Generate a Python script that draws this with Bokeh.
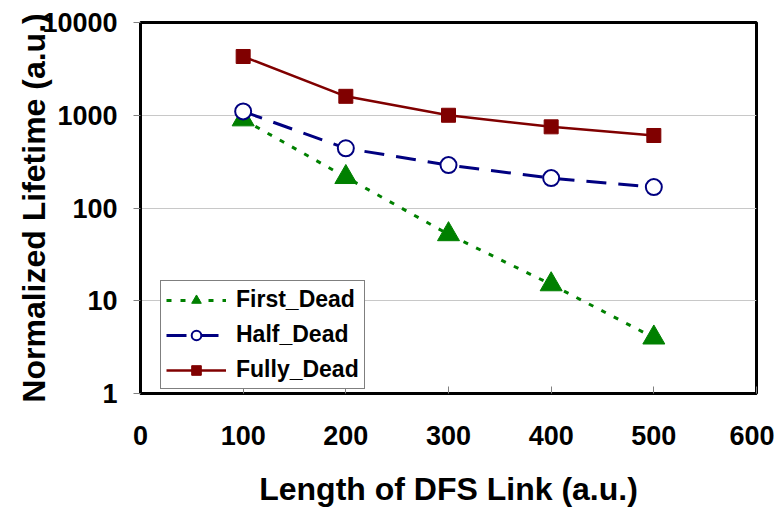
from bokeh.plotting import figure
from bokeh.models import FixedTicker, Range1d, Legend, LegendItem
from bokeh.embed import file_html
from bokeh.resources import INLINE

# ---- data ----
x_len = [100, 200, 300, 400, 500]
first_dead = [900, 215, 52, 15, 4.0]
half_dead = [1100, 440, 290, 210, 168]
fully_dead = [4300, 1600, 1000, 750, 605]

x_ticks = [0, 100, 200, 300, 400, 500, 600]
y_ticks = [1, 10, 100, 1000, 10000]
y_tick_labels = ["1", "10", "100", "1000", "10000"]
x_title = "Length of DFS Link (a.u.)"
y_title = "Normalized Lifetime (a.u.)"

FONT = "Liberation Sans"

p = figure(width=774, height=510, y_axis_type="log",
           x_range=Range1d(0, 600), y_range=Range1d(1, 10000),
           output_backend="svg", toolbar_location=None,
           min_border_left=140, min_border_right=18,
           min_border_top=22, min_border_bottom=117)

p.background_fill_color = "white"
p.border_fill_color = "white"
p.outline_line_color = "black"
p.outline_line_width = 3

# grid
p.xgrid.visible = False
p.ygrid.ticker = FixedTicker(ticks=[10, 100, 1000])
p.ygrid.grid_line_color = "#c8c8c8"
p.ygrid.grid_line_width = 1

# x axis
p.xaxis.ticker = FixedTicker(ticks=x_ticks)
p.xaxis.axis_label = x_title
p.xaxis.axis_label_text_font = FONT
p.xaxis.axis_label_text_font_style = "bold"
p.xaxis.axis_label_text_font_size = "32px"
p.xaxis.axis_label_text_color = "black"
p.xaxis.axis_label_standoff = 23
p.xaxis.major_label_text_font = FONT
p.xaxis.major_label_text_font_style = "bold"
p.xaxis.major_label_text_font_size = "27px"
p.xaxis.major_label_text_color = "black"
p.xaxis.major_label_standoff = 32
p.xaxis.major_tick_in = 7
p.xaxis.major_tick_out = 0
p.xaxis.major_tick_line_color = "#808080"
p.xaxis.minor_tick_line_color = None
p.xaxis.axis_line_color = "black"
p.xaxis.axis_line_width = 3

# y axis
p.yaxis.ticker = FixedTicker(ticks=y_ticks)
p.yaxis.major_label_overrides = {t: l for t, l in zip(y_ticks, y_tick_labels)}
p.yaxis.axis_label = y_title
p.yaxis.axis_label_text_font = FONT
p.yaxis.axis_label_text_font_style = "bold"
p.yaxis.axis_label_text_font_size = "32px"
p.yaxis.axis_label_text_color = "black"
p.yaxis.axis_label_standoff = -13
p.yaxis.major_label_text_font = FONT
p.yaxis.major_label_text_font_style = "bold"
p.yaxis.major_label_text_font_size = "27px"
p.yaxis.major_label_text_color = "black"
p.yaxis.major_label_standoff = 16
p.yaxis.major_tick_in = 0
p.yaxis.major_tick_out = 7
p.yaxis.major_tick_line_color = "#808080"
p.yaxis.minor_tick_line_color = None
p.yaxis.axis_line_color = "black"
p.yaxis.axis_line_width = 3

GREEN = "#008000"
NAVY = "#000080"
DRED = "#800000"

l1 = p.line(x_len, first_dead, line_color=GREEN, line_width=3, line_dash="5 9")
s1 = p.scatter(x_len, first_dead, marker="triangle", size=22,
               fill_color=GREEN, line_color=GREEN)

l2 = p.line(x_len, half_dead, line_color=NAVY, line_width=3, line_dash="20 12")
s2 = p.scatter(x_len, half_dead, marker="circle", size=16,
               fill_color="white", line_color=NAVY, line_width=2)

l3 = p.line(x_len, fully_dead, line_color=DRED, line_width=2.5)
s3 = p.scatter(x_len, fully_dead, marker="square", size=14,
               fill_color=DRED, line_color=DRED)

legend = Legend(items=[
    LegendItem(label="First_Dead", renderers=[l1, s1]),
    LegendItem(label="Half_Dead", renderers=[l2, s2]),
    LegendItem(label="Fully_Dead", renderers=[l3, s3]),
], location=(20, 4))
legend.label_text_font = FONT
legend.label_text_font_style = "bold"
legend.label_text_font_size = "23px"
legend.label_text_color = "black"
legend.glyph_width = 60
legend.glyph_height = 24
legend.label_standoff = 10
legend.spacing = 8
legend.padding = 5
legend.margin = 0
legend.border_line_color = "black"
legend.border_line_width = 1
legend.background_fill_color = "white"
legend.background_fill_alpha = 1
p.add_layout(legend, "center")

open("out.html", "w").write(file_html(p, INLINE))
